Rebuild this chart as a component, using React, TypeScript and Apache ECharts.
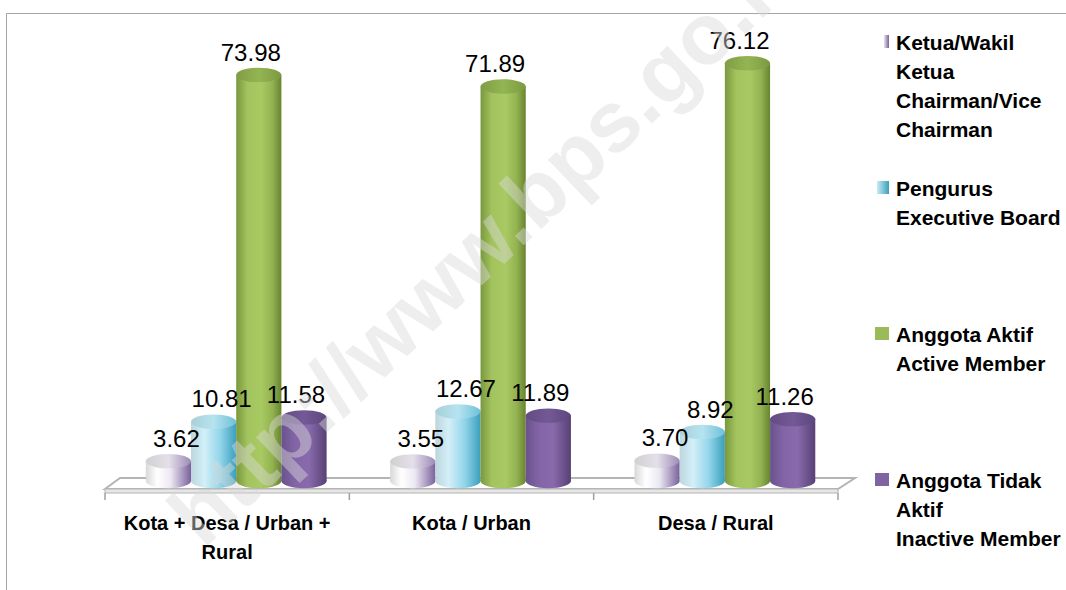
import React, { useEffect, useRef } from "react";
import * as echarts from "echarts";

// ---- data ----
const categories = ["Kota + Desa / Urban +\nRural", "Kota / Urban", "Desa / Rural"];
const legendLines = [
  ["Ketua/Wakil", "Ketua", "Chairman/Vice", "Chairman"],
  ["Pengurus", "Executive Board"],
  ["Anggota Aktif", "Active Member"],
  ["Anggota Tidak", "Aktif", "Inactive Member"],
];
const seriesNames = legendLines.map((l) => l.join(" "));
const ketuaValues = [3.62, 3.55, 3.7];
const pengurusValues = [10.81, 12.67, 8.92];
const aktifValues = [73.98, 71.89, 76.12];
const tidakAktifValues = [11.58, 11.89, 11.26];
const seriesValues = [ketuaValues, pengurusValues, aktifValues, tidakAktifValues];
const watermarkText = "http://www.bps.go.id";

// ---- styles ----
const FONT = "Liberation Sans";
const bodyStops = [
  [
    [0, "#d8d8d8"],
    [0.25, "#ffffff"],
    [0.55, "#ece8f2"],
    [1, "#7a619c"],
  ],
  [
    [0, "#bcd6dd"],
    [0.3, "#d3eff7"],
    [0.65, "#92d5ea"],
    [1, "#3b9fbc"],
  ],
  [
    [0, "#7a983f"],
    [0.25, "#a2c35d"],
    [0.55, "#a9ca63"],
    [0.8, "#93b251"],
    [1, "#67842f"],
  ],
  [
    [0, "#6a528c"],
    [0.3, "#8365a7"],
    [0.6, "#896bad"],
    [1, "#574175"],
  ],
];
const topStops = [
  [
    [0, "#d0d0d0"],
    [0.5, "#e4e0ea"],
    [1, "#9d8ab6"],
  ],
  [
    [0, "#a9cfd9"],
    [0.5, "#b6e3f0"],
    [1, "#6fc0d8"],
  ],
  [
    [0, "#7f9d45"],
    [0.5, "#94b553"],
    [1, "#7b9a41"],
  ],
  [
    [0, "#634b84"],
    [0.5, "#735995"],
    [1, "#5d4680"],
  ],
];
const legendIcons = [
  { w: 5, fill: [[0, "#e8e4ee"], [1, "#7a619c"]] },
  { w: 12, fill: [[0, "#c9ecf5"], [1, "#3b9fbc"]] },
  { w: 14, fill: [[0, "#9bbb59"], [1, "#9bbb59"]] },
  { w: 14, fill: [[0, "#8064a2"], [1, "#8064a2"]] },
];

const grad = (stops: any[]) =>
  new echarts.graphic.LinearGradient(
    0,
    0,
    1,
    0,
    stops.map(([offset, color]) => ({ offset, color }))
  );

function makeBarRender(idx: number) {
  return (params: any, api: any) => {
    const cat = api.value(0);
    const val = api.value(1);
    const base = api.coord([cat, 0]);
    const top = api.coord([cat, val]);
    const band = api.size([1, 0])[0];
    const w = band * 0.185;
    const shift = band * 0.037;
    const left = base[0] + shift + (idx - 2) * w;
    const cx = left + w / 2;
    const ry = w * 0.16;
    const labelShift = idx < 2 ? 8 : -8;
    return {
      type: "group",
      children: [
        {
          type: "ellipse",
          shape: { cx, cy: base[1], rx: w / 2, ry },
          style: { fill: grad(bodyStops[idx]) },
        },
        {
          type: "rect",
          shape: { x: left, y: top[1], width: w, height: base[1] - top[1] },
          style: { fill: grad(bodyStops[idx]) },
        },
        {
          type: "ellipse",
          shape: { cx, cy: top[1], rx: w / 2, ry },
          style: { fill: grad(topStops[idx]) },
        },
        {
          type: "text",
          z2: 100,
          style: {
            text: Number(val).toFixed(2),
            x: cx + labelShift,
            y: top[1] - 23,
            align: "center",
            verticalAlign: "middle",
            fontSize: 24,
            fontFamily: FONT,
            fill: "#000",
          },
        },
      ],
    };
  };
}

function renderFloor(params: any, api: any) {
  const c0 = api.coord([0, 0]);
  const band = api.size([1, 0])[0];
  const n = categories.length;
  const left = c0[0] - band / 2;
  const right = left + band * n;
  const frontY = c0[1] + 8;
  const backY = c0[1] - 3;
  const children: any[] = [
    {
      type: "polygon",
      shape: {
        points: [
          [left, frontY],
          [left + 15, backY],
          [right + 17, backY],
          [right, frontY],
        ],
      },
      style: { fill: "#ffffff", stroke: "#b4b4b4", lineWidth: 2 },
    },
    {
      type: "rect",
      shape: { x: left, y: frontY, width: right - left, height: 4 },
      style: { fill: "#e6e6e6", stroke: "#b4b4b4", lineWidth: 1 },
    },
  ];
  for (let i = 0; i <= n; i++) {
    const x = left + band * i;
    children.push({
      type: "line",
      shape: { x1: x, y1: frontY + 4, x2: x, y2: frontY + 11 },
      style: { stroke: "#a0a0a0", lineWidth: 1.5 },
    });
  }
  return { type: "group", children };
}

export default function App() {
  const ref = useRef<HTMLDivElement>(null);
  useEffect(() => {
    if (!ref.current) return;
    const chart = echarts.init(ref.current, null, { renderer: "svg" });

    const legendGraphics: any[] = [];
    legendLines.forEach((lines, i) => {
      const cy = 42 + 146 * i;
      const icon = legendIcons[i];
      legendGraphics.push({
        type: "rect",
        left: 889 - icon.w,
        top: cy - 7,
        shape: { width: icon.w, height: 13 },
        style: { fill: grad(icon.fill) },
      });
      legendGraphics.push({
        type: "text",
        left: 896,
        top: cy - 14.5,
        style: {
          text: lines.join("\n"),
          fontSize: 21,
          fontWeight: "bold",
          fontFamily: FONT,
          lineHeight: 29,
          fill: "#000",
        },
      });
    });

    chart.setOption({
      animation: false,
      backgroundColor: "#ffffff",
      grid: { left: 105, right: 228, top: 42, bottom: 109 },
      xAxis: {
        type: "category",
        data: categories,
        axisLine: { show: false },
        axisTick: { show: false },
        axisLabel: {
          interval: 0,
          margin: 27,
          fontSize: 20,
          fontWeight: "bold",
          fontFamily: FONT,
          lineHeight: 29,
          color: "#000",
        },
      },
      yAxis: { type: "value", min: 0, max: 80, show: false },
      series: [
        {
          type: "custom",
          name: "floor",
          z: 1,
          clip: false,
          silent: true,
          data: [[0, 0]],
          encode: { x: 0, y: 1 },
          renderItem: renderFloor,
        },
        ...seriesValues.map((vals, idx) => ({
          type: "custom",
          name: seriesNames[idx],
          z: 2,
          clip: false,
          data: vals.map((v, i) => [i, v]),
          encode: { x: 0, y: 1 },
          renderItem: makeBarRender(idx),
        })),
      ],
      graphic: [
        {
          type: "rect",
          left: 4,
          top: 11,
          z: 0,
          shape: { width: 1200, height: 800 },
          style: { fill: "none", stroke: "#a6a6a6", lineWidth: 1 },
          silent: true,
        },
        ...legendGraphics,
        {
          type: "text",
          x: 488,
          y: 238,
          rotation: 0.76,
          z: 100,
          silent: true,
          style: {
            text: watermarkText,
            align: "center",
            verticalAlign: "middle",
            fontSize: 86,
            fontWeight: "bold",
            fontFamily: FONT,
            fill: "rgba(218,218,218,0.45)",
          },
        },
      ],
    });
    return () => chart.dispose();
  }, []);
  return (
    <div
      ref={ref}
      style={{ position: "fixed", left: 0, top: 0, width: 1066, height: 590 }}
    />
  );
}
